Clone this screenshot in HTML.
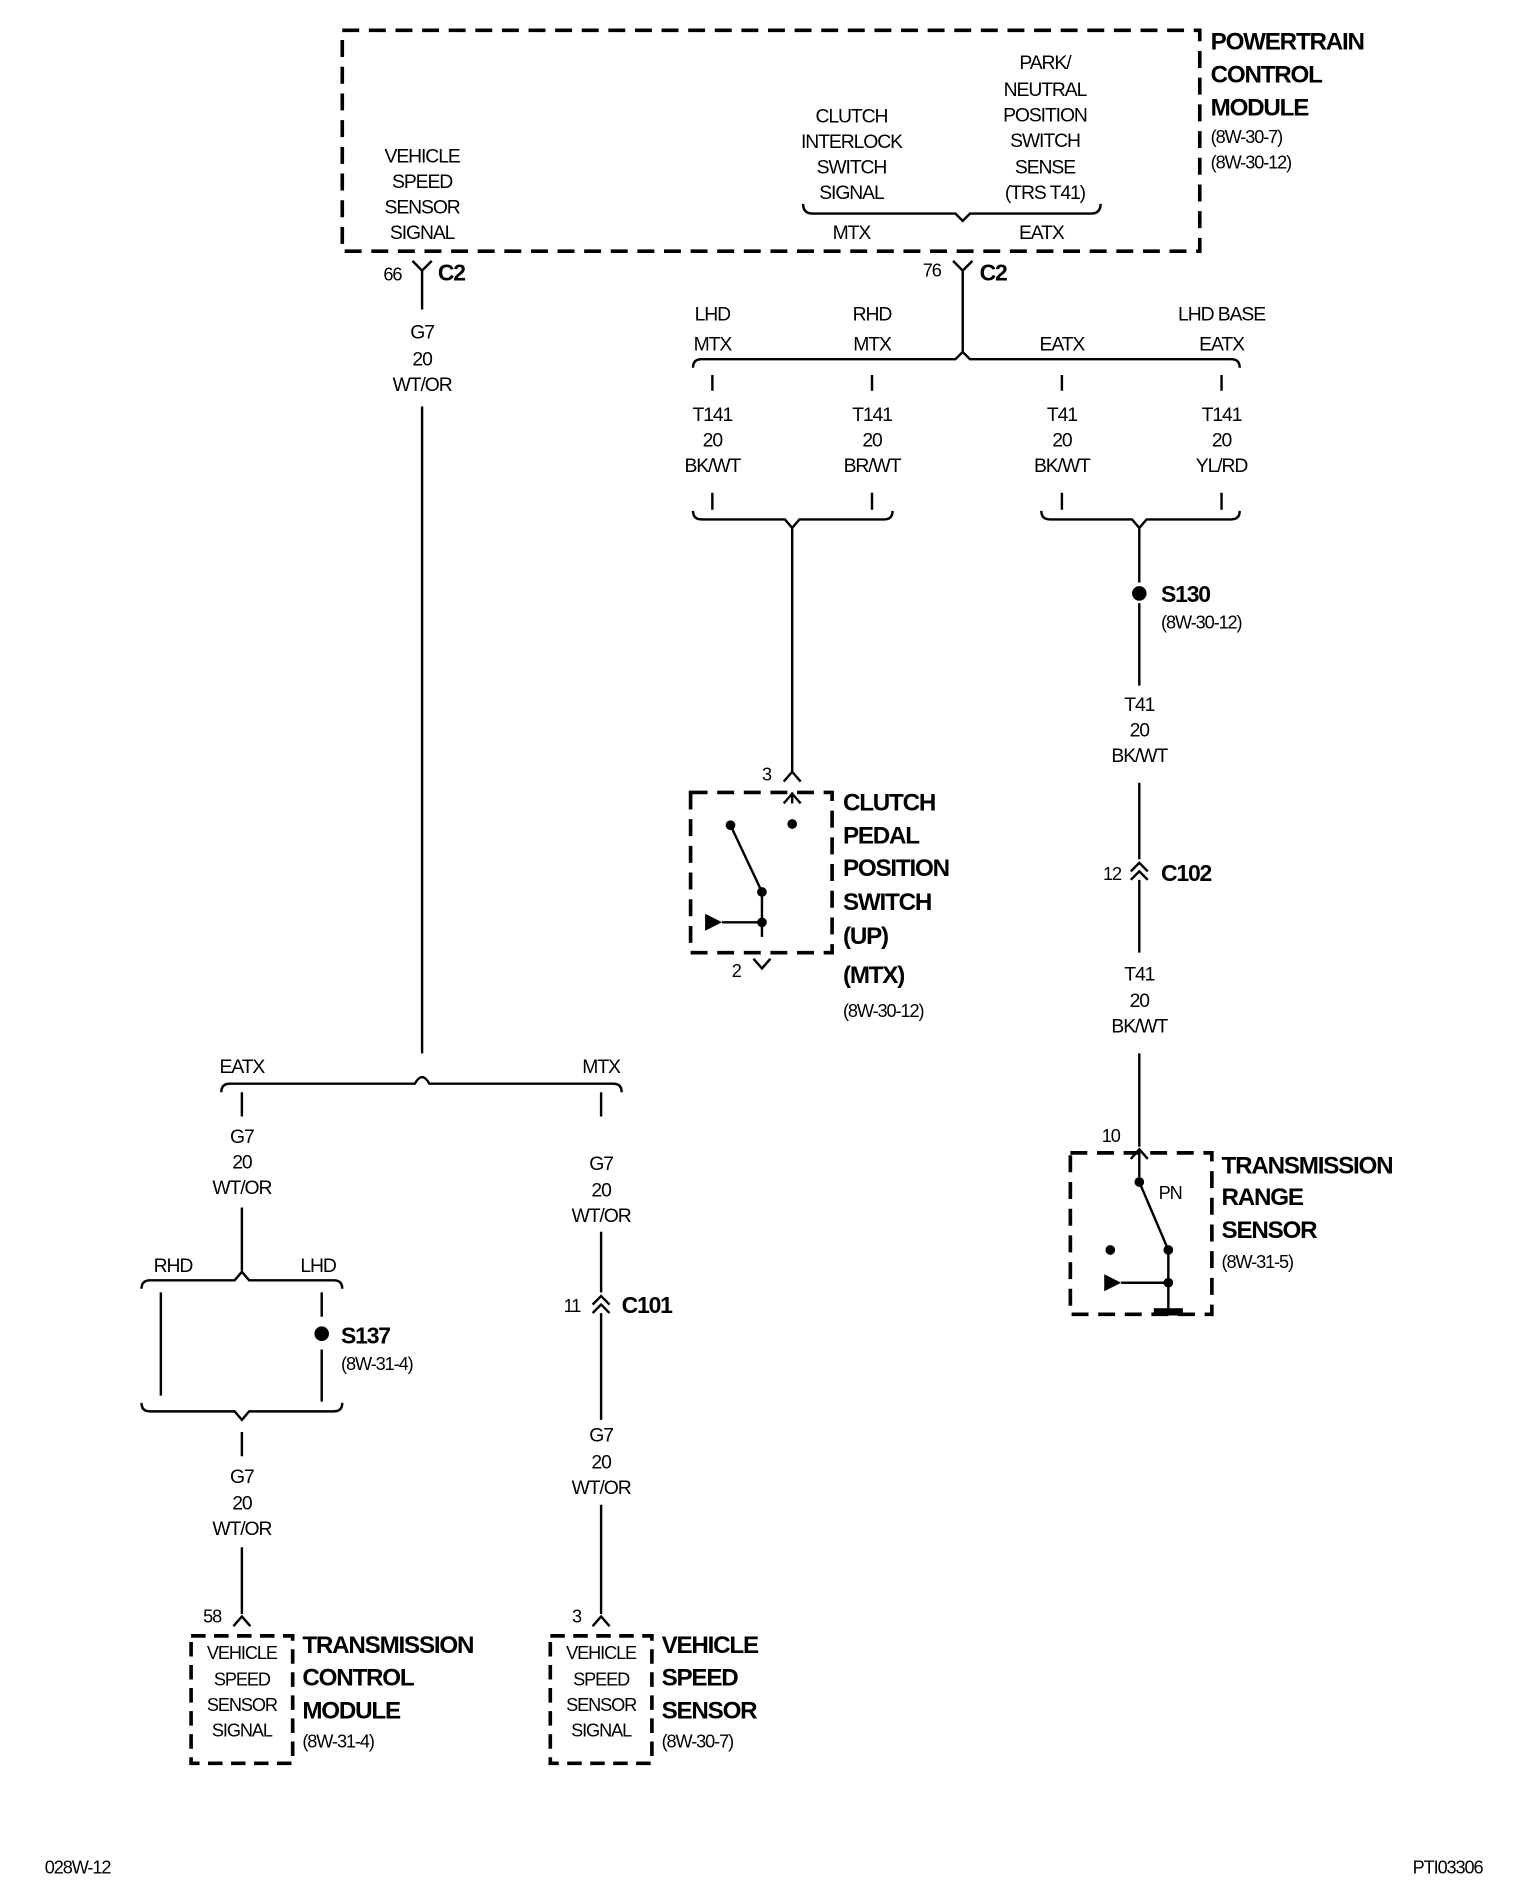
<!DOCTYPE html>
<html><head><meta charset="utf-8"><style>
html,body{margin:0;padding:0;background:#fff;}
svg{display:block;}
text{font-family:"Liberation Sans",sans-serif;font-size:16px;letter-spacing:-0.9px;fill:#000;}
.c{text-anchor:middle;}
.b{font-weight:bold;font-size:20px;letter-spacing:-1px;}
.s{font-size:15px;}
</style></head><body>
<svg width="1536" height="1898" viewBox="0 0 1270 1564" preserveAspectRatio="none" xmlns="http://www.w3.org/2000/svg">
<g fill="none" stroke="#000" stroke-width="2">
<rect x="283" y="25" width="709" height="182" stroke-width="3" stroke-dasharray="14 8"/>
<path d="M664 168 Q664 176 672 176 L790 176 L796 182 L802 176 L902 176 Q910 176 910 168"/>
<path d="M341 215 L349 223 L357 215 M349 223 V255"/>
<path d="M349 335 V868"/>
<path d="M183 900 Q183 893 190 893 L343 893 Q349 882 355 893 L507 893 Q514 893 514 900"/>
<path d="M200 900 V920 M200 995 V1047"/>
<path d="M117 1062 Q117 1055 124 1055 L194 1055 L200 1048 L206 1055 L276 1055 Q283 1055 283 1062"/>
<path d="M133 1065 V1150 M266 1065 V1085 M266 1112 V1155"/>
<path d="M117 1156 Q117 1163 124 1163 L194 1163 L200 1170 L206 1163 L276 1163 Q283 1163 283 1156"/>
<path d="M200 1180 V1200 M200 1275 V1330 M193 1340 L200 1332 L207 1340"/>
<rect x="158" y="1348" width="84" height="105" stroke-width="3" stroke-dasharray="12 7"/>
<path d="M497 900 V920 M497 1015 V1065 M490 1075 L497 1068 L504 1075 M490 1082 L497 1075 L504 1082 M497 1082 V1170 M497 1240 V1330 M490 1340 L497 1332 L504 1340"/>
<rect x="455" y="1348" width="84" height="105" stroke-width="3" stroke-dasharray="12 7"/>
<path d="M788 215 L796 223 L804 215 M796 223 V291"/>
<path d="M573 303 Q573 296 580 296 L790 296 L796 290 L802 296 L1018 296 Q1025 296 1025 303"/>
<path d="M589 309 V322 M721 309 V322 M878 309 V322 M1010 309 V322"/>
<path d="M589 406 V420 M721 406 V420 M878 406 V420 M1010 406 V420"/>
<path d="M573 421 Q573 428 580 428 L649 428 L655 435 L661 428 L731 428 Q738 428 738 421"/>
<path d="M861 421 Q861 428 868 428 L936 428 L942 435 L948 428 L1018 428 Q1025 428 1025 421"/>
<path d="M655 435 V636 M648 644 L655 636 L662 644"/>
<path d="M942 435 V480 M942 497 V565 M942 645 V708 M935 718 L942 711 L949 718 M935 725 L942 718 L949 725 M942 725 V785 M942 868 V945 M935 955 L942 947 L949 955"/>
<rect x="571" y="653" width="117" height="132" stroke-width="3" stroke-dasharray="14 8"/>
<path d="M655 653 V662 M648 662 L655 654 L662 662"/>
<path d="M604 680 L630 735 V772 M597 760 H630 M623 790 L630 798 L637 790"/>
<rect x="885" y="950" width="117" height="133" stroke-width="3" stroke-dasharray="14 8"/>
<path d="M942 948 V970 M942 974 L966 1030 V1080 M927 1057 H966 M954 1082 H978"/>
</g>
<g fill="#000">
<circle cx="266" cy="1099" r="6"/>
<circle cx="942" cy="489" r="6"/>
<circle cx="655" cy="679" r="4"/><circle cx="604" cy="680" r="4"/><circle cx="630" cy="735" r="4"/><circle cx="630" cy="760" r="4"/>
<path d="M583 753 L597 760 L583 767 Z"/>
<circle cx="942" cy="974" r="4"/><circle cx="918" cy="1030" r="4"/><circle cx="966" cy="1030" r="4"/><circle cx="966" cy="1057" r="4"/>
<path d="M913 1050 L927 1057 L913 1064 Z"/>
<rect x="954" y="1078" width="24" height="6"/>
</g>
<text class="b" x="1001" y="41">POWERTRAIN</text>
<text class="b" x="1001" y="68">CONTROL</text>
<text class="b" x="1001" y="95">MODULE</text>
<text class="s" x="1001" y="118">(8W-30-7)</text>
<text class="s" x="1001" y="139">(8W-30-12)</text>
<text class="c" x="349" y="134">VEHICLE</text><text class="c" x="349" y="155">SPEED</text><text class="c" x="349" y="176">SENSOR</text><text class="c" x="349" y="197">SIGNAL</text>
<text class="c" x="704" y="101">CLUTCH</text><text class="c" x="704" y="122">INTERLOCK</text><text class="c" x="704" y="143">SWITCH</text><text class="c" x="704" y="164">SIGNAL</text>
<text class="c" x="864" y="57">PARK/</text><text class="c" x="864" y="79">NEUTRAL</text><text class="c" x="864" y="100">POSITION</text><text class="c" x="864" y="121">SWITCH</text><text class="c" x="864" y="143">SENSE</text><text class="c" x="864" y="164">(TRS T41)</text>
<text class="c" x="704" y="197">MTX</text><text class="c" x="861" y="197">EATX</text>
<text x="317" y="231" class="s">66</text><text class="b" x="362" y="231" style="font-size:19px">C2</text>
<text x="763" y="228" class="s">76</text><text class="b" x="810" y="231" style="font-size:19px">C2</text>
<text class="c" x="349" y="279">G7</text><text class="c" x="349" y="301">20</text><text class="c" x="349" y="322">WT/OR</text>
<text class="c" x="589" y="264">LHD</text><text class="c" x="589" y="289">MTX</text>
<text class="c" x="721" y="264">RHD</text><text class="c" x="721" y="289">MTX</text>
<text class="c" x="878" y="289">EATX</text>
<text class="c" x="1010" y="264">LHD BASE</text><text class="c" x="1010" y="289">EATX</text>
<text class="c" x="589" y="347">T141</text><text class="c" x="589" y="368">20</text><text class="c" x="589" y="389">BK/WT</text>
<text class="c" x="721" y="347">T141</text><text class="c" x="721" y="368">20</text><text class="c" x="721" y="389">BR/WT</text>
<text class="c" x="878" y="347">T41</text><text class="c" x="878" y="368">20</text><text class="c" x="878" y="389">BK/WT</text>
<text class="c" x="1010" y="347">T141</text><text class="c" x="1010" y="368">20</text><text class="c" x="1010" y="389">YL/RD</text>
<text class="b" x="960" y="496" style="font-size:19px">S130</text><text class="s" x="960" y="518">(8W-30-12)</text>
<text class="c" x="942" y="586">T41</text><text class="c" x="942" y="607">20</text><text class="c" x="942" y="628">BK/WT</text>
<text class="s" x="912" y="725">12</text><text class="b" x="960" y="726" style="font-size:19px">C102</text>
<text class="c" x="942" y="808">T41</text><text class="c" x="942" y="830">20</text><text class="c" x="942" y="851">BK/WT</text>
<text class="s" x="911" y="941">10</text>
<text class="b" x="1010" y="967">TRANSMISSION</text><text class="b" x="1010" y="993">RANGE</text><text class="b" x="1010" y="1020">SENSOR</text><text class="s" x="1010" y="1045">(8W-31-5)</text>
<text class="s" x="958" y="988">PN</text>
<text class="s" x="630" y="643">3</text><text class="s" x="605" y="805">2</text>
<text class="b" x="697" y="668">CLUTCH</text><text class="b" x="697" y="695">PEDAL</text><text class="b" x="697" y="722">POSITION</text><text class="b" x="697" y="750">SWITCH</text><text class="b" x="697" y="778">(UP)</text><text class="b" x="697" y="810">(MTX)</text><text class="s" x="697" y="838">(8W-30-12)</text>
<text class="c" x="200" y="884">EATX</text><text class="c" x="497" y="884">MTX</text>
<text class="c" x="200" y="942">G7</text><text class="c" x="200" y="963">20</text><text class="c" x="200" y="984">WT/OR</text>
<text class="c" x="143" y="1048">RHD</text><text class="c" x="263" y="1048">LHD</text>
<text class="b" x="282" y="1107" style="font-size:19px">S137</text><text class="s" x="282" y="1129">(8W-31-4)</text>
<text class="c" x="200" y="1222">G7</text><text class="c" x="200" y="1244">20</text><text class="c" x="200" y="1265">WT/OR</text>
<text class="s" x="168" y="1337">58</text>
<text class="c s" x="200" y="1367">VEHICLE</text><text class="c s" x="200" y="1389">SPEED</text><text class="c s" x="200" y="1410">SENSOR</text><text class="c s" x="200" y="1431">SIGNAL</text>
<text class="b" x="250" y="1362">TRANSMISSION</text><text class="b" x="250" y="1389">CONTROL</text><text class="b" x="250" y="1416">MODULE</text><text class="s" x="250" y="1440">(8W-31-4)</text>
<text class="c" x="497" y="964">G7</text><text class="c" x="497" y="986">20</text><text class="c" x="497" y="1007">WT/OR</text>
<text class="s" x="466" y="1081">11</text><text class="b" x="514" y="1082" style="font-size:19px">C101</text>
<text class="c" x="497" y="1188">G7</text><text class="c" x="497" y="1210">20</text><text class="c" x="497" y="1231">WT/OR</text>
<text class="s" x="473" y="1337">3</text>
<text class="c s" x="497" y="1367">VEHICLE</text><text class="c s" x="497" y="1389">SPEED</text><text class="c s" x="497" y="1410">SENSOR</text><text class="c s" x="497" y="1431">SIGNAL</text>
<text class="b" x="547" y="1362">VEHICLE</text><text class="b" x="547" y="1389">SPEED</text><text class="b" x="547" y="1416">SENSOR</text><text class="s" x="547" y="1440">(8W-30-7)</text>
<text class="s" x="37" y="1544">028W-12</text><text class="s" x="1168" y="1544">PTI03306</text>
</svg>
</body></html>
